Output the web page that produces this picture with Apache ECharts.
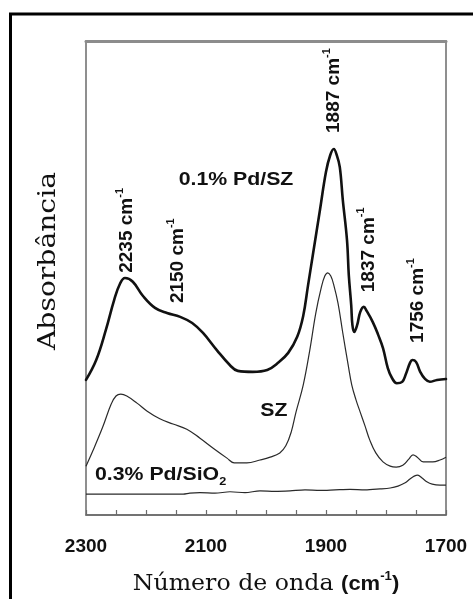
<!DOCTYPE html>
<html>
<head>
<meta charset="utf-8">
<script src="https://cdn.jsdelivr.net/npm/echarts@6.0.0/dist/echarts.min.js"></script>
<style>
  html, body { margin: 0; padding: 0; background: #fff; }
  #chart { width: 473px; height: 599px; }
</style>
</head>
<body>
<div id="chart"></div>
<script>
// IR spectra of adsorbed CO: wavenumber (cm-1) and absorbance (arbitrary units, offset curves)
const wnPdSZ = [2300,2283,2267,2253,2243,2235,2222,2205,2185,2165,2143,2123,2105,2082,2060,2047,2022,1998,1980,1963,
  1948,1938,1930,1922,1910,1900,1893,1887,1882,1877,1872,1865,1862,1858,1856,1853,1848,1843,1837,1832,
  1822,1813,1805,1797,1790,1782,1773,1767,1760,1756,1750,1743,1735,1727,1715,1700];
const absPdSZ = [0.285,0.327,0.390,0.454,0.489,0.500,0.492,0.462,0.437,0.426,0.418,0.405,0.384,0.348,0.316,0.304,0.302,0.306,0.321,0.342,
  0.376,0.420,0.484,0.548,0.644,0.724,0.759,0.772,0.759,0.734,0.665,0.580,0.506,0.443,0.401,0.386,0.401,0.428,0.439,0.430,
  0.407,0.380,0.352,0.310,0.289,0.278,0.281,0.297,0.321,0.327,0.323,0.302,0.287,0.281,0.285,0.287];

const wnSZ = [2300,2288,2272,2258,2250,2242,2232,2215,2198,2177,2155,2132,2110,2088,2065,2053,2032,2010,1993,1977,
  1967,1958,1950,1938,1927,1917,1908,1902,1897,1892,1887,1880,1872,1863,1857,1850,1843,1835,1827,1817,
  1805,1793,1783,1772,1762,1755,1748,1738,1722,1710,1700];
const absSZ = [0.103,0.137,0.186,0.234,0.251,0.255,0.251,0.236,0.219,0.203,0.192,0.181,0.162,0.141,0.120,0.110,0.110,0.116,0.122,0.131,
  0.146,0.175,0.217,0.274,0.348,0.426,0.479,0.504,0.511,0.504,0.485,0.447,0.384,0.316,0.274,0.243,0.217,0.188,0.158,0.131,
  0.112,0.103,0.101,0.105,0.118,0.127,0.122,0.112,0.112,0.116,0.122];

const wnPdSiO2 = [2300,2243,2193,2138,2127,2110,2085,2060,2035,2010,1985,1960,1935,1910,1885,1860,1835,1810,1793,1780,
  1768,1760,1753,1747,1740,1732,1723,1710,1700];
const absPdSiO2 = [0.044,0.044,0.044,0.044,0.046,0.047,0.046,0.049,0.047,0.051,0.050,0.051,0.053,0.052,0.053,0.054,0.053,0.055,0.057,0.061,
  0.068,0.076,0.082,0.084,0.078,0.070,0.065,0.063,0.063];

// axis tick labels
const tickLabels = [2300, 2100, 1900, 1700];

// band assignments written along the 0.1% Pd/SZ spectrum, with the point where each label starts
const bandValues = [2235, 2150, 1887, 1837, 1756];
const bandLabelX = [2235, 2150, 1890, 1832, 1750];
const bandLabelY = [0.511, 0.447, 0.806, 0.470, 0.363];

// sample names and their positions
const sampleNames = ['0.1% Pd/SZ', 'SZ', '0.3% Pd/SiO'];
const sampleLabelX = [2050, 1987, 2285];
const sampleLabelY = [0.703, 0.217, 0.081];

const pair = (xs, ys) => xs.map((x, i) => [x, ys[i]]);

const chart = echarts.init(document.getElementById('chart'), null, { renderer: 'canvas' });

const GRID = { left: 86, top: 41, width: 360, height: 474 };

chart.setOption({
  animation: false,
  backgroundColor: '#fff',
  grid: Object.assign({
    show: true,
    borderColor: '#6b6b6b',
    borderWidth: 1.5,
    backgroundColor: 'transparent',
    outerBoundsMode: 'none',
    containLabel: false
  }, GRID),
  xAxis: [{
    type: 'value',
    min: 1700, max: 2300, interval: 50,
    inverse: true,
    position: 'bottom',
    axisLine: { show: true, lineStyle: { color: '#6b6b6b', width: 1.5 } },
    axisTick: { show: true, inside: true, length: 5, lineStyle: { color: '#6b6b6b', width: 1.2 } },
    axisLabel: {
      show: true, margin: 22,
      fontFamily: 'Liberation Sans, Arial, sans-serif', fontWeight: 'bold', fontSize: 19, color: '#111',
      formatter: v => tickLabels.includes(v) ? String(v) : ''
    },
    splitLine: { show: false }
  }, {
    type: 'value',
    min: 1700, max: 2300,
    inverse: true,
    position: 'top',
    axisLine: { show: true, lineStyle: { color: '#8c8c8c', width: 3 } },
    axisTick: { show: false },
    axisLabel: { show: false },
    splitLine: { show: false }
  }],
  yAxis: {
    type: 'value', min: 0, max: 1,
    axisLine: { show: false }, axisTick: { show: false },
    axisLabel: { show: false }, splitLine: { show: false }
  },
  series: [
    {
      name: '0.1% Pd/SZ', type: 'line', xAxisIndex: 0,
      data: pair(wnPdSZ, absPdSZ),
      showSymbol: false, smooth: 0.4,
      lineStyle: { color: '#111', width: 2.6, join: 'round', cap: 'round' }
    },
    {
      name: 'SZ', type: 'line', xAxisIndex: 0,
      data: pair(wnSZ, absSZ),
      showSymbol: false, smooth: 0.4,
      lineStyle: { color: '#2a2a2a', width: 1.2, join: 'round' }
    },
    {
      name: '0.3% Pd/SiO2', type: 'line', xAxisIndex: 0,
      data: pair(wnPdSiO2, absPdSiO2),
      showSymbol: false, smooth: 0.3,
      lineStyle: { color: '#2a2a2a', width: 1.2, join: 'round' }
    }
  ]
});

const toPx = (x, y) => chart.convertToPixel({ gridIndex: 0 }, [x, y]);
const boldSans = 'Liberation Sans, Arial, sans-serif';

const graphics = [];

// outer frame of the figure
graphics.push({
  type: 'rect', silent: true, z: 0,
  shape: { x: 10.5, y: 14, width: 520, height: 640 },
  style: { fill: 'none', stroke: '#000', lineWidth: 3 }
});

// band labels, rotated to read bottom-to-top
bandValues.forEach((b, i) => {
  const p = toPx(bandLabelX[i], bandLabelY[i]);
  graphics.push({
    type: 'text', x: p[0], y: p[1], rotation: Math.PI / 2, z: 10,
    style: {
      text: '{n|' + b + ' cm}{s|-1}',
      align: 'left', verticalAlign: 'middle',
      textAlign: 'left', textVerticalAlign: 'middle',
      fill: '#111',
      rich: {
        n: { fontFamily: boldSans, fontWeight: 'bold', fontSize: 19, lineHeight: 22, fill: '#111', verticalAlign: 'bottom' },
        s: { fontFamily: boldSans, fontWeight: 'bold', fontSize: 11, lineHeight: 22, fill: '#111', verticalAlign: 'top' }
      }
    }
  });
});

// sample names
sampleNames.forEach((name, i) => {
  const p = toPx(sampleLabelX[i], sampleLabelY[i]);
  const isSiO2 = i === 2;
  graphics.push({
    type: 'text', x: p[0], y: p[1], scaleX: 1.15, z: 10,
    style: {
      text: isSiO2 ? '{t|' + name + '}{u|2}' : '{t|' + name + '}',
      align: isSiO2 ? 'left' : 'center', verticalAlign: 'middle',
      textAlign: isSiO2 ? 'left' : 'center', textVerticalAlign: 'middle',
      fill: '#111',
      rich: {
        t: { fontFamily: boldSans, fontWeight: 'bold', fontSize: 18.5, lineHeight: 22, fill: '#111', verticalAlign: 'top' },
        u: { fontFamily: boldSans, fontWeight: 'bold', fontSize: 11, lineHeight: 22, fill: '#111', verticalAlign: 'bottom' }
      }
    }
  });
});

// axis titles
graphics.push({
  type: 'text', x: 266, y: 584, scaleX: 1.1, z: 10,
  style: {
    text: '{s|Número de onda }{b|(cm}{p|-1}{b|)}',
    align: 'center', verticalAlign: 'middle',
    textAlign: 'center', textVerticalAlign: 'middle',
    fill: '#111',
    rich: {
      s: { fontFamily: 'DejaVu Serif, serif', fontSize: 21.5, lineHeight: 26, fill: '#111', verticalAlign: 'middle' },
      b: { fontFamily: boldSans, fontWeight: 'bold', fontSize: 20, lineHeight: 26, fill: '#111', verticalAlign: 'middle' },
      p: { fontFamily: boldSans, fontWeight: 'bold', fontSize: 12, lineHeight: 20, fill: '#111', verticalAlign: 'top' }
    }
  }
});
graphics.push({
  type: 'text', x: 49, y: 261, rotation: Math.PI / 2, scaleX: 1.2, z: 10,
  style: {
    text: 'Absorbância',
    align: 'center', verticalAlign: 'middle',
    textAlign: 'center', textVerticalAlign: 'middle',
    fontFamily: 'DejaVu Serif, serif', fontSize: 23.5, fill: '#111'
  }
});

chart.setOption({ graphic: { elements: graphics } });
</script>
</body>
</html>
